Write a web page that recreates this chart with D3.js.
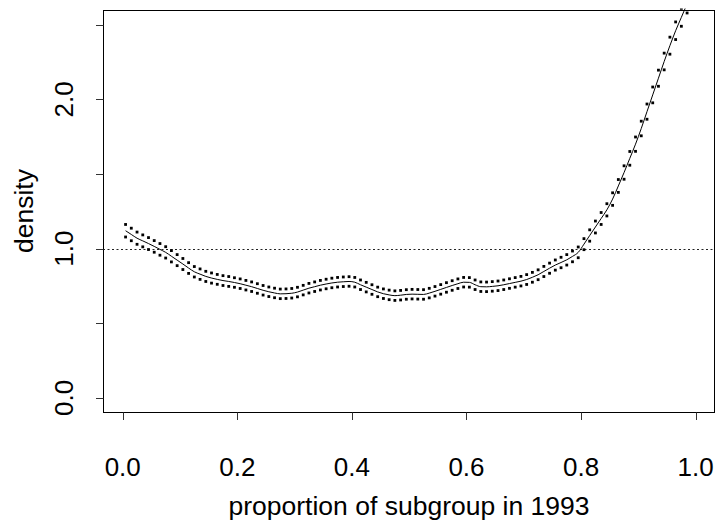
<!DOCTYPE html>
<html>
<head>
<meta charset="utf-8">
<script src="https://cdn.jsdelivr.net/npm/d3@7"></script>
<style>
  body { margin: 0; background: #fff; }
  text { font-family: "Liberation Sans", Arial, sans-serif; fill: #000; }
</style>
</head>
<body>
<div class="chart"></div>
<script>
// proportion grid (evaluation points)
var xs = [0.005, 0.015, 0.025, 0.035, 0.045, 0.055, 0.065, 0.075, 0.085, 0.095,
  0.105, 0.115, 0.125, 0.135, 0.145, 0.155, 0.165, 0.175, 0.185, 0.195,
  0.205, 0.215, 0.225, 0.235, 0.245, 0.255, 0.265, 0.275, 0.285, 0.295,
  0.305, 0.315, 0.325, 0.335, 0.345, 0.355, 0.365, 0.375, 0.385, 0.395,
  0.405, 0.415, 0.425, 0.435, 0.445, 0.455, 0.465, 0.475, 0.485, 0.495,
  0.505, 0.515, 0.525, 0.535, 0.545, 0.555, 0.565, 0.575, 0.585, 0.595,
  0.605, 0.615, 0.625, 0.635, 0.645, 0.655, 0.665, 0.675, 0.685, 0.695,
  0.705, 0.715, 0.725, 0.735, 0.745, 0.755, 0.765, 0.775, 0.785, 0.795,
  0.805, 0.815, 0.825, 0.835, 0.845, 0.855, 0.865, 0.875, 0.885, 0.895,
  0.905, 0.915, 0.925, 0.935, 0.945, 0.955, 0.965, 0.975, 0.985];

// density estimate
var dens = [1.12, 1.095, 1.07, 1.052, 1.034, 1.015, 0.995, 0.975, 0.949, 0.923,
  0.897, 0.87, 0.845, 0.829, 0.814, 0.803, 0.794, 0.786, 0.78, 0.773,
  0.765, 0.755, 0.745, 0.733, 0.721, 0.711, 0.703, 0.697, 0.698, 0.701,
  0.709, 0.722, 0.735, 0.745, 0.755, 0.763, 0.77, 0.775, 0.778, 0.78,
  0.775, 0.758, 0.742, 0.726, 0.71, 0.698, 0.69, 0.685, 0.688, 0.693,
  0.695, 0.694, 0.693, 0.702, 0.714, 0.727, 0.74, 0.753, 0.765, 0.775,
  0.774, 0.758, 0.745, 0.744, 0.747, 0.751, 0.758, 0.766, 0.774, 0.782,
  0.793, 0.808, 0.825, 0.847, 0.869, 0.89, 0.907, 0.925, 0.948, 0.975,
  1.03, 1.088, 1.145, 1.202, 1.26, 1.332, 1.42, 1.51, 1.605, 1.7,
  1.805, 1.918, 2.03, 2.142, 2.254, 2.36, 2.46, 2.55, 2.64];

// upper band
var upper = [1.162, 1.137, 1.111, 1.092, 1.074, 1.054, 1.034, 1.013, 0.987, 0.96,
  0.934, 0.906, 0.88, 0.864, 0.848, 0.837, 0.827, 0.819, 0.813, 0.805,
  0.797, 0.787, 0.777, 0.765, 0.753, 0.743, 0.735, 0.729, 0.73, 0.733,
  0.741, 0.754, 0.767, 0.777, 0.787, 0.795, 0.802, 0.807, 0.81, 0.812,
  0.807, 0.79, 0.774, 0.758, 0.742, 0.73, 0.722, 0.717, 0.72, 0.725,
  0.727, 0.726, 0.725, 0.734, 0.746, 0.759, 0.772, 0.785, 0.797, 0.807,
  0.806, 0.79, 0.777, 0.776, 0.779, 0.783, 0.79, 0.798, 0.806, 0.814,
  0.826, 0.841, 0.858, 0.881, 0.903, 0.924, 0.942, 0.96, 0.984, 1.011,
  1.067, 1.126, 1.185, 1.242, 1.301, 1.374, 1.463, 1.555, 1.651, 1.748,
  1.854, 1.969, 2.083, 2.196, 2.31, 2.417, 2.519, 2.61, 2.701];

// lower band
var lower = [1.078, 1.053, 1.029, 1.012, 0.994, 0.976, 0.956, 0.937, 0.911, 0.886,
  0.86, 0.834, 0.81, 0.794, 0.78, 0.769, 0.761, 0.753, 0.747, 0.741,
  0.733, 0.723, 0.713, 0.701, 0.689, 0.679, 0.671, 0.665, 0.666, 0.669,
  0.677, 0.69, 0.703, 0.713, 0.723, 0.731, 0.738, 0.743, 0.746, 0.748,
  0.743, 0.726, 0.71, 0.694, 0.678, 0.666, 0.658, 0.653, 0.656, 0.661,
  0.663, 0.662, 0.661, 0.67, 0.682, 0.695, 0.708, 0.721, 0.733, 0.743,
  0.742, 0.726, 0.713, 0.712, 0.715, 0.719, 0.726, 0.734, 0.742, 0.75,
  0.76, 0.775, 0.792, 0.813, 0.835, 0.856, 0.872, 0.89, 0.912, 0.939,
  0.993, 1.05, 1.105, 1.162, 1.219, 1.29, 1.377, 1.465, 1.559, 1.652,
  1.756, 1.867, 1.977, 2.088, 2.198, 2.303, 2.401, 2.49, 2.579];

var xTicks = [0, 0.2, 0.4, 0.6, 0.8, 1.0];
var yTicks = [0, 0.5, 1, 1.5, 2, 2.5];
var yLabels = [0, 1, 2];

var width = 718;
var height = 523;

var svg = d3.select(".chart").append("svg")
  .attr("width", width)
  .attr("height", height);

var x = d3.scaleLinear().domain([-0.0344, 1.0337]).range([103, 715]);
var y = d3.scaleLinear().domain([-0.098, 2.599]).range([412.5, 10]);

svg.append("clipPath").attr("id", "plotclip")
  .append("rect")
  .attr("x", 103).attr("y", 8.5).attr("width", 612).attr("height", 404);

var plot = svg.append("g").attr("clip-path", "url(#plotclip)");

// reference line at density 1
plot.append("line")
  .attr("x1", 103).attr("x2", 715)
  .attr("y1", Math.round(y(1)) + 0.5).attr("y2", Math.round(y(1)) + 0.5)
  .attr("stroke", "#222")
  .attr("stroke-width", 1)
  .attr("stroke-dasharray", "2,2.5");

var line = d3.line()
  .x(function (d, i) { return x(xs[i]); })
  .y(function (d) { return y(d); })
  .curve(d3.curveMonotoneX);

plot.append("path")
  .attr("d", line(dens))
  .attr("fill", "none")
  .attr("stroke", "#000")
  .attr("stroke-width", 1);

// band points as small squares
[upper, lower].forEach(function (band, k) {
  plot.append("g").attr("class", k ? "lower" : "upper")
    .selectAll("rect")
    .data(band)
    .enter()
    .append("rect")
    .attr("x", function (d, i) { return x(xs[i]) - 1.4; })
    .attr("y", function (d) { return y(d) - 1.4; })
    .attr("width", 2.8)
    .attr("height", 2.8)
    .attr("fill", "#000");
});

// box
svg.append("rect")
  .attr("x", 103.5).attr("y", 10.5)
  .attr("width", 611).attr("height", 402)
  .attr("fill", "none")
  .attr("stroke", "#000")
  .attr("stroke-width", 1);

// x axis
var xAxis = svg.append("g");
xAxis.selectAll("line").data(xTicks).enter().append("line")
  .attr("x1", function (d) { return Math.round(x(d)) + 0.5; })
  .attr("x2", function (d) { return Math.round(x(d)) + 0.5; })
  .attr("y1", 412.5).attr("y2", 420)
  .attr("stroke", "#333");
xAxis.selectAll("text").data(xTicks).enter().append("text")
  .attr("x", function (d) { return x(d); })
  .attr("y", 476)
  .attr("text-anchor", "middle")
  .style("font-size", "26px")
  .text(function (d) { return d3.format(".1f")(d); });

// y axis
var yAxis = svg.append("g");
yAxis.selectAll("line").data(yTicks).enter().append("line")
  .attr("x1", 96).attr("x2", 103.5)
  .attr("y1", function (d) { return Math.round(y(d)) + 0.5; })
  .attr("y2", function (d) { return Math.round(y(d)) + 0.5; })
  .attr("stroke", "#333");
yAxis.selectAll("text").data(yLabels).enter().append("text")
  .attr("transform", function (d) { return "translate(73," + y(d) + ") rotate(-90)"; })
  .attr("text-anchor", "middle")
  .style("font-size", "26px")
  .text(function (d) { return d3.format(".1f")(d); });

svg.append("text")
  .attr("x", 409).attr("y", 515)
  .attr("text-anchor", "middle")
  .style("font-size", "26.5px")
  .text("proportion of subgroup in 1993");

svg.append("text")
  .attr("transform", "translate(33,211) rotate(-90)")
  .attr("text-anchor", "middle")
  .style("font-size", "26.5px")
  .text("density");
</script>
</body>
</html>
